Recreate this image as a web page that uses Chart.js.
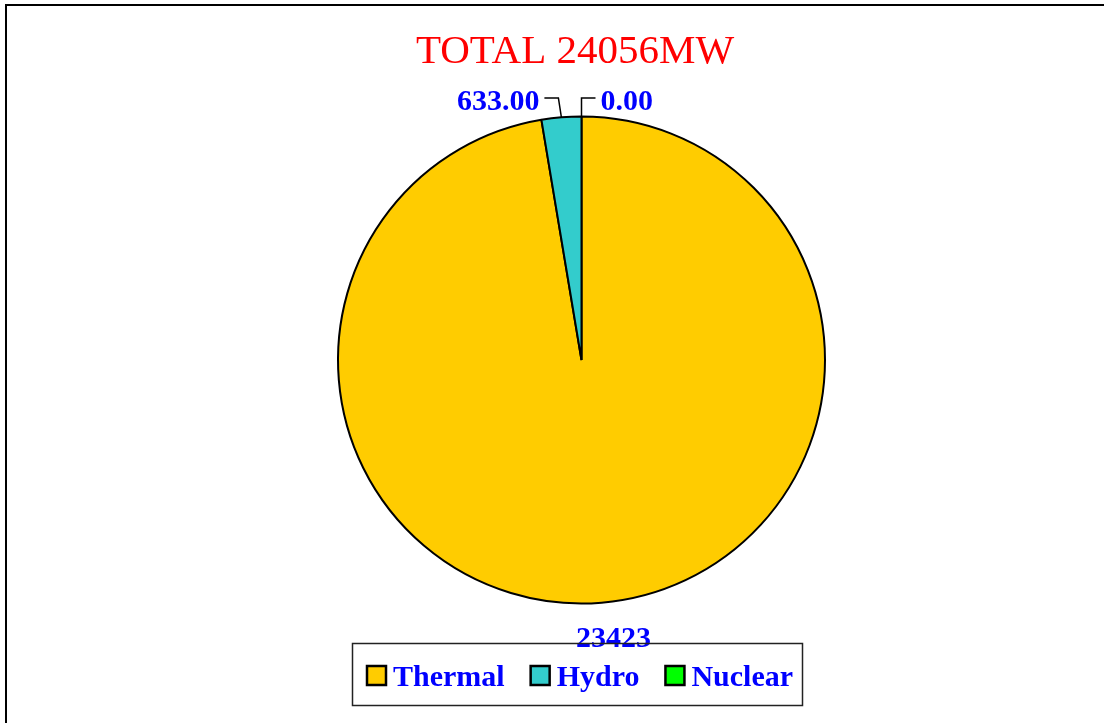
<!DOCTYPE html>
<html>
<head>
<meta charset="utf-8">
<title>Installed Capacity</title>
<script src="https://cdn.jsdelivr.net/npm/chart.js@4.4.0/dist/chart.umd.min.js"></script>
<style>
    html, body { margin: 0; padding: 0; background: #ffffff; }
    canvas { display: block; }
</style>
</head>
<body>
<canvas id="capacityChart" width="1104" height="723"></canvas>
<script>
// Chart data
const categories = ['Thermal', 'Hydro', 'Nuclear'];
const capacityMW = [23423, 633, 0];
const valueLabels = ['23423', '633.00', '0.00'];
const sliceColors = ['#FFCC00', '#33CCCC', '#00FF00'];
const titleText = 'TOTAL 24056MW';

const SERIF = '"Liberation Serif", "Times New Roman", serif';
const LABEL_BLUE = '#0000FF';

// Background, outer frame and title
const framePlugin = {
    id: 'frame',
    beforeDraw(chart) {
        const ctx = chart.ctx;
        ctx.save();
        ctx.fillStyle = '#ffffff';
        ctx.fillRect(0, 0, chart.width, chart.height);
        ctx.strokeStyle = '#000000';
        ctx.lineWidth = 2;
        ctx.strokeRect(6, 5, chart.width + 20, chart.height + 20);
        ctx.fillStyle = '#FF0000';
        ctx.font = '41px ' + SERIF;
        ctx.textAlign = 'center';
        ctx.textBaseline = 'alphabetic';
        ctx.fillText(titleText, 575, 63);
        ctx.restore();
    }
};

// Value labels with leader lines
const valueLabelPlugin = {
    id: 'valueLabels',
    afterDatasetsDraw(chart) {
        const ctx = chart.ctx;
        const meta = chart.getDatasetMeta(0);
        ctx.save();
        ctx.font = 'bold 30px ' + SERIF;
        ctx.fillStyle = LABEL_BLUE;
        ctx.textBaseline = 'alphabetic';
        meta.data.forEach((arc, i) => {
            const p = arc.getProps(['x', 'y', 'startAngle', 'endAngle', 'outerRadius'], true);
            const mid = (p.startAngle + p.endAngle) / 2;
            const ax = p.x + Math.cos(mid) * p.outerRadius;
            const ay = p.y + Math.sin(mid) * p.outerRadius;
            if (Math.sin(mid) < -0.9) {
                // top labels: leader up then sideways
                const side = Math.cos(mid) < -0.01 ? -1 : 1;
                const ex = ax + (side < 0 ? -3 : 0);
                const ey = 98;
                const hx = ex + side * 14;
                ctx.strokeStyle = '#000000';
                ctx.lineWidth = 1.5;
                ctx.beginPath();
                ctx.moveTo(ax, ay);
                ctx.lineTo(ex, ey);
                ctx.lineTo(hx, ey);
                ctx.stroke();
                ctx.textAlign = side < 0 ? 'right' : 'left';
                ctx.fillText(valueLabels[i], hx + side * 5, 109.5);
            } else {
                ctx.textAlign = 'center';
                ctx.fillText(valueLabels[i], ax + 12, ay + 44);
            }
        });
        ctx.restore();
    }
};

// Boxed legend under the pie
const boxLegendPlugin = {
    id: 'boxLegend',
    afterDraw(chart) {
        const ctx = chart.ctx;
        ctx.save();
        ctx.strokeStyle = '#222222';
        ctx.lineWidth = 1.5;
        ctx.strokeRect(352.5, 643.5, 450, 62);

        ctx.font = 'bold 30px ' + SERIF;
        ctx.textAlign = 'left';
        ctx.textBaseline = 'alphabetic';
        let x = 367;
        categories.forEach((name, i) => {
            ctx.fillStyle = sliceColors[i];
            ctx.fillRect(x, 666, 19, 19);
            ctx.strokeStyle = '#000000';
            ctx.lineWidth = 2.5;
            ctx.strokeRect(x, 666, 19, 19);
            ctx.fillStyle = LABEL_BLUE;
            ctx.fillText(name, x + 26, 686);
            x += 26 + ctx.measureText(name).width + 26;
        });
        ctx.restore();
    }
};

function initializeCapacityChart() {
    const canvas = document.getElementById('capacityChart');
    if (!canvas) {
        console.error('Chart canvas not found');
        return;
    }
    const ctx = canvas.getContext('2d');
    return new Chart(ctx, {
        type: 'pie',
        data: {
            labels: categories,
            datasets: [{
                data: capacityMW,
                backgroundColor: sliceColors,
                borderColor: '#000000',
                borderWidth: 2
            }]
        },
        options: {
            responsive: false,
            animation: false,
            events: [],
            layout: {
                padding: { left: 337, right: 278, top: 115.5, bottom: 118.5 }
            },
            plugins: {
                legend: { display: false },
                title: { display: false },
                tooltip: { enabled: false }
            }
        },
        plugins: [framePlugin, valueLabelPlugin, boxLegendPlugin]
    });
}

initializeCapacityChart();
</script>
</body>
</html>
